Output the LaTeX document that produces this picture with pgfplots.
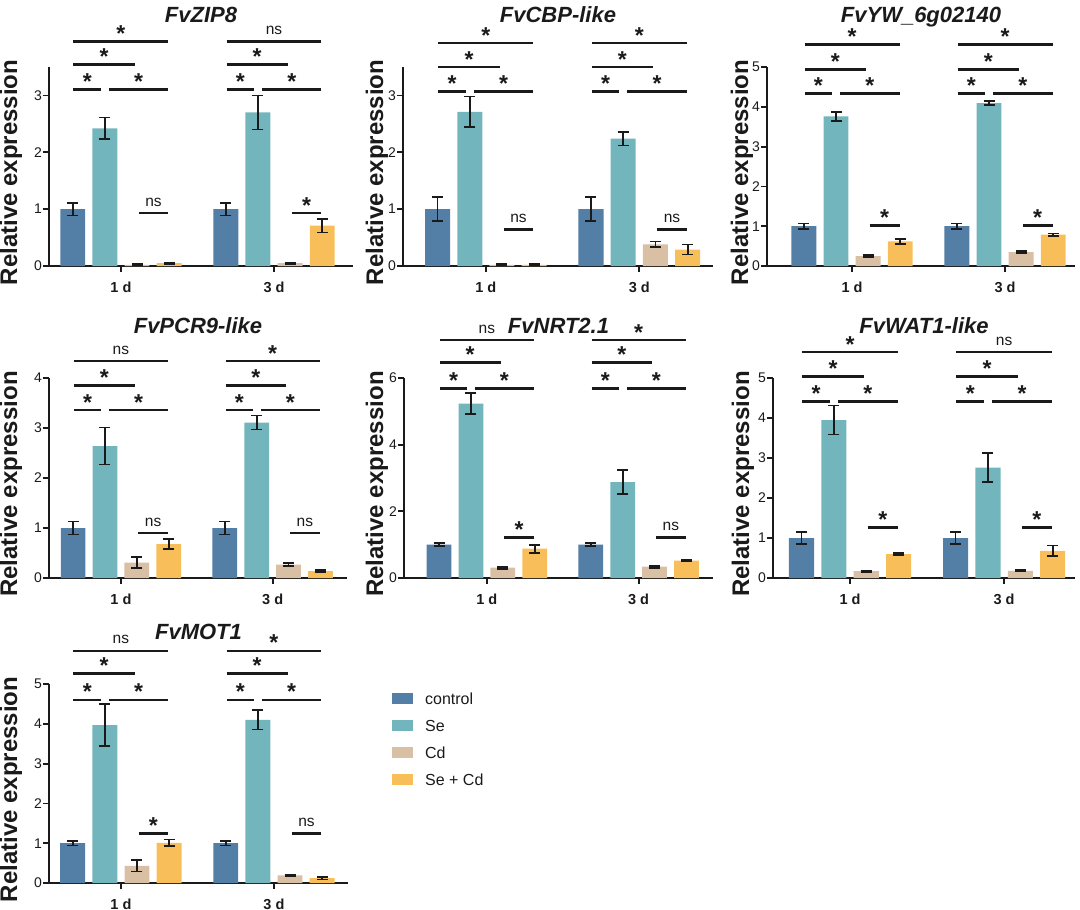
\documentclass[border=0pt]{standalone}
\usepackage{pgfplots}
\pgfplotsset{compat=1.18}
\usepackage{pgfplotstable}
\usepackage{fontspec}
\setmainfont{Liberation Sans}
\definecolor{cctrl}{HTML}{537EA5}
\definecolor{cse}{HTML}{73B5BC}
\definecolor{ccd}{HTML}{D9BFA3}
\definecolor{csecd}{HTML}{F8BE5A}
\definecolor{ink}{HTML}{1A1A1A}

% g = group (0 = 1 d, 1 = 3 d); c/s/d/a = control, Se, Cd, Se+Cd ; *e = error
\pgfplotstableread{
g c ce s se d de a ae
0 1.00 0.11 2.42 0.19 0.02 0.01 0.05 0.01
1 1.00 0.11 2.70 0.30 0.05 0.01 0.71 0.12
}\tA
\pgfplotstableread{
g c ce s se d de a ae
0 1.00 0.21 2.71 0.27 0.02 0.01 0.02 0.01
1 1.00 0.21 2.24 0.12 0.38 0.05 0.29 0.09
}\tB
\pgfplotstableread{
g c ce s se d de a ae
0 1.00 0.07 3.76 0.11 0.25 0.02 0.62 0.06
1 1.00 0.07 4.09 0.05 0.35 0.03 0.79 0.03
}\tC
\pgfplotstableread{
g c ce s se d de a ae
0 1.00 0.13 2.64 0.37 0.31 0.11 0.68 0.10
1 1.00 0.13 3.11 0.14 0.27 0.03 0.14 0.02
}\tD
\pgfplotstableread{
g c ce s se d de a ae
0 1.00 0.05 5.23 0.31 0.31 0.03 0.88 0.12
1 1.00 0.05 2.88 0.35 0.34 0.03 0.52 0.02
}\tE
\pgfplotstableread{
g c ce s se d de a ae
0 1.00 0.15 3.95 0.36 0.17 0.02 0.60 0.02
1 1.00 0.15 2.76 0.36 0.18 0.02 0.68 0.13
}\tF
\pgfplotstableread{
g c ce s se d de a ae
0 1.00 0.06 3.97 0.53 0.43 0.14 1.01 0.08
1 1.00 0.06 4.10 0.24 0.19 0.02 0.12 0.03
}\tG

\tikzset{sigl/.style={ink, line width=2.6pt}}
\pgfplotsset{
  panel/.style={
    scale only axis, axis x line*=bottom, axis y line*=left,
    axis line style={ink, line width=1.8pt},
    major tick style={ink, line width=1.8pt},
    major tick length=6pt, tick align=outside,
    xtick={0,1}, xticklabels={1 d,3 d},
    ymin=0, enlargelimits=false, clip=false,
    x tick label style={font=\fontsize{14.5}{16}\selectfont\bfseries, text=ink, yshift=-6pt},
    y tick label style={font=\fontsize{14}{16}\selectfont, text=ink, inner sep=1pt},
    /pgf/number format/assume math mode=true,
    ylabel={Relative expression},
    every axis y label/.style={rotate=90, anchor=center, font=\fontsize{24}{27}\selectfont\bfseries, text=ink},
    every axis title/.style={anchor=base, font=\fontsize{22}{25}\selectfont\bfseries\itshape, text=ink,
      at={([yshift=45pt]axis description cs:0.5,1)}},
  },
  ylab/.style={ylabel style={at={([xshift=-#1]axis description cs:0,0.47)}}},
  bstyle/.style={ybar, bar width=0.163, bar shift=0pt, fill=#1, draw=none,
    legend image code/.code={\fill[#1] (0pt,-5.5pt) rectangle (21pt,5.5pt);},
    error bars/.cd, y dir=both, y explicit,
    error mark=-,
    error bar style={ink, line width=1.7pt},
    error mark options={ink, line width=1.7pt, mark size=5.5pt, rotate=90}},
}

\newcommand{\bars}[1]{%
  \addplot[bstyle=cctrl] table[x expr=\thisrow{g}-0.315, y=c, y error=ce] {#1};
  \addplot[bstyle=cse]   table[x expr=\thisrow{g}-0.105, y=s, y error=se] {#1};
  \addplot[bstyle=ccd]   table[x expr=\thisrow{g}+0.105, y=d, y error=de] {#1};
  \addplot[bstyle=csecd] table[x expr=\thisrow{g}+0.315, y=a, y error=ae] {#1};
}
\newcommand{\st}{\fontsize{23}{23}\selectfont\bfseries *}
\newcommand{\ns}{\raisebox{7pt}{\fontsize{15.5}{15.5}\selectfont ns}}
\newcommand{\sg}[4]{\draw[sigl] (axis cs:#1,#3) -- node[pos=0.5, anchor=base, inner sep=0pt, text=ink]{#4} (axis cs:#2,#3);}
% group, L1, L2, L3, ctrl-Se, Se-SeCd, ctrl-Cd, ctrl-SeCd
\newcommand{\sigset}[8]{%
  \sg{#1-0.31}{#1-0.13}{#2}{#5}
  \sg{#1-0.078}{#1+0.31}{#2}{#6}
  \sg{#1-0.31}{#1+0.09}{#3}{#7}
  \sg{#1-0.31}{#1+0.31}{#4}{#8}}
\newcommand{\siglow}[3]{\sg{#1+0.115}{#1+0.31}{#2}{#3}}

\begin{document}
\begin{tikzpicture}
\path[use as bounding box] (0pt,0pt) rectangle (1080pt,-910pt);

% ---------- FvZIP8
\begin{axis}[panel, at={(49pt,-266pt)}, anchor=south west, width=304pt, height=199pt,
  xmin=-0.47, xmax=1.516, ymax=3.5, ytick={0,1,2,3}, title={FvZIP8}, ylab=38pt]
\bars{\tA}
\sigset{0}{3.10}{3.54}{3.95}{\st}{\st}{\st}{\st}
\sigset{1}{3.10}{3.54}{3.95}{\st}{\st}{\st}{\ns}
\siglow{0}{0.93}{\ns}
\siglow{1}{0.93}{\st}
\end{axis}

% ---------- FvCBP-like
\begin{axis}[panel, at={(403pt,-266pt)}, anchor=south west, width=310pt, height=199pt,
  xmin=-0.54, xmax=1.48, ymax=3.5, ytick={0,1,2,3}, title={FvCBP-like}, ylab=26pt]
\bars{\tB}
\sigset{0}{3.07}{3.50}{3.92}{\st}{\st}{\st}{\st}
\sigset{1}{3.07}{3.50}{3.92}{\st}{\st}{\st}{\st}
\siglow{0}{0.645}{\ns}
\siglow{1}{0.645}{\ns}
\end{axis}

% ---------- FvYW_6g02140
\begin{axis}[panel, at={(767pt,-266pt)}, anchor=south west, width=308pt, height=199pt,
  xmin=-0.556, xmax=1.457, ymax=5, ytick={0,1,2,3,4,5}, title={FvYW\_6g02140}, ylab=25pt]
\bars{\tC}
\sigset{0}{4.33}{4.94}{5.56}{\st}{\st}{\st}{\st}
\sigset{1}{4.33}{4.94}{5.56}{\st}{\st}{\st}{\st}
\siglow{0}{1.02}{\st}
\siglow{1}{1.02}{\st}
\end{axis}

% ---------- FvPCR9-like
\begin{axis}[panel, at={(49pt,-578pt)}, anchor=south west, width=298pt, height=200pt,
  xmin=-0.474, xmax=1.49, ymax=4, ytick={0,1,2,3,4}, title={FvPCR9-like}, ylab=38pt]
\bars{\tD}
\sigset{0}{3.36}{3.85}{4.34}{\st}{\st}{\st}{\ns}
\sigset{1}{3.36}{3.85}{4.34}{\st}{\st}{\st}{\st}
\siglow{0}{0.90}{\ns}
\siglow{1}{0.90}{\ns}
\end{axis}

% ---------- FvNRT2.1
\begin{axis}[panel, at={(404pt,-578pt)}, anchor=south west, width=309pt, height=200pt,
  xmin=-0.546, xmax=1.49, ymax=6, ytick={0,2,4,6}, title={FvNRT2.1}, ylab=27pt]
\bars{\tE}
\sigset{0}{5.69}{6.47}{7.14}{\st}{\st}{\st}{\ns}
\sigset{1}{5.69}{6.47}{7.14}{\st}{\st}{\st}{\st}
\siglow{0}{1.22}{\st}
\siglow{1}{1.22}{\ns}
\end{axis}

% ---------- FvWAT1-like
\begin{axis}[panel, at={(773pt,-578pt)}, anchor=south west, width=302pt, height=200pt,
  xmin=-0.5, xmax=1.46, ymax=5, ytick={0,1,2,3,4,5}, title={FvWAT1-like}, ylab=30pt]
\bars{\tF}
\sigset{0}{4.41}{5.04}{5.65}{\st}{\st}{\st}{\st}
\sigset{1}{4.41}{5.04}{5.65}{\st}{\st}{\st}{\ns}
\siglow{0}{1.26}{\st}
\siglow{1}{1.26}{\st}
\end{axis}

% ---------- FvMOT1
\begin{axis}[panel, at={(49pt,-883pt)}, anchor=south west, width=299pt, height=199pt,
  xmin=-0.47, xmax=1.484, ymax=5, ytick={0,1,2,3,4,5}, title={FvMOT1}, ylab=38pt,
  legend entries={control,Se,Cd,Se + Cd},
  legend cell align=left,
  legend style={at={(1.147,0.955)}, anchor=north west, draw=none, fill=none,
    inner sep=0pt, row sep=15.5pt, column sep=12pt, font=\fontsize{16}{18}\selectfont, text=ink,
    nodes={inner sep=0pt, anchor=west, text depth=0pt}}]
\bars{\tG}
\sigset{0}{4.60}{5.27}{5.83}{\st}{\st}{\st}{\ns}
\sigset{1}{4.60}{5.27}{5.83}{\st}{\st}{\st}{\st}
\siglow{0}{1.24}{\st}
\siglow{1}{1.24}{\ns}
\end{axis}
\end{tikzpicture}
\end{document}
